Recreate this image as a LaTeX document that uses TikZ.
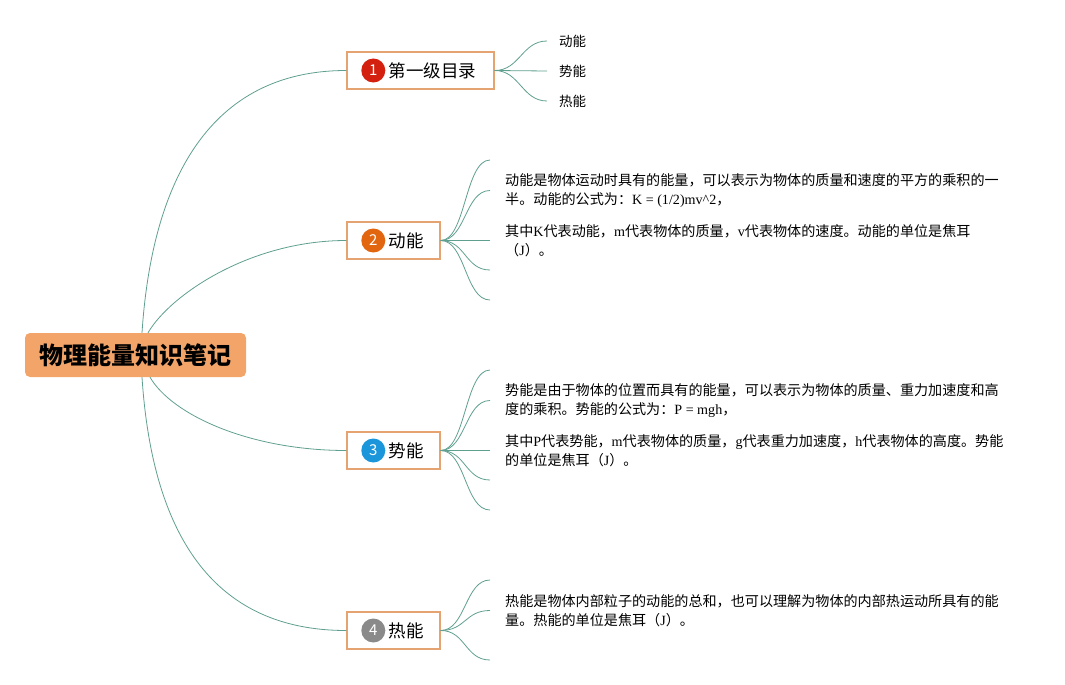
\documentclass[tikz,border=0pt]{standalone}
\usepackage{fontspec}
\setmainfont{Noto Sans CJK SC}
\newfontfamily\lat{Liberation Serif}
\usetikzlibrary{positioning}
\definecolor{rootfill}{HTML}{F3A469}
\definecolor{boxline}{HTML}{E6A372}
\definecolor{linkcol}{HTML}{5F9F8F}
\definecolor{numred}{HTML}{D3200F}
\definecolor{numorange}{HTML}{E2650F}
\definecolor{numblue}{HTML}{1C96DB}
\definecolor{numgray}{HTML}{8A8A8A}

\begin{document}
\begin{tikzpicture}[x=1pt,y=-1pt,
        link/.style={draw=linkcol,line width=0.8pt},
        root/.style={fill=rootfill,rounded corners=5pt,minimum width=221pt,minimum height=44pt,font=\fontsize{24}{27}\selectfont\bfseries},
        topic/.style={draw=boxline,line width=1.4pt,fill=white,minimum height=37pt},
        num/.style={circle,inner sep=0pt,minimum size=24pt,text=white,font=\fontsize{15}{15}\selectfont},
        toptext/.style={inner sep=1pt,font=\fontsize{17.5}{20}\selectfont},
        leaf/.style={anchor=west,inner xsep=12pt,font=\fontsize{13.5}{16}\selectfont},
        para/.style={anchor=west,inner xsep=15pt,align=left,font=\fontsize{14.1}{19.5}\selectfont}]
        \useasboundingbox (0,0) rectangle (1065,685);

        % root
        \node[root] (root) at (135.5,355) {物理能量知识笔记};

        % first level
        \node[topic,minimum width=147pt] (b1) at (420.5,70.5) {};
        \node[num,fill=numred] (n1) at ([xshift=27pt]b1.west) {1};
        \node[toptext,right=2pt of n1] (t1) {第一级目录};

        \node[topic,minimum width=93pt] (b2) at (393.5,240.5) {};
        \node[num,fill=numorange] (n2) at ([xshift=27pt]b2.west) {2};
        \node[toptext,right=2pt of n2] (t2) {动能};

        \node[topic,minimum width=93pt] (b3) at (393.5,450.5) {};
        \node[num,fill=numblue] (n3) at ([xshift=27pt]b3.west) {3};
        \node[toptext,right=2pt of n3] (t3) {势能};

        \node[topic,minimum width=93pt] (b4) at (393.5,630.5) {};
        \node[num,fill=numgray] (n4) at ([xshift=27pt]b4.west) {4};
        \node[toptext,right=2pt of n4] (t4) {热能};

        \draw[link] ([xshift=6.5pt]root.north) .. controls (152,180) and (210,70.5) .. (b1.west);
        \draw[link] ([xshift=12.5pt]root.north) .. controls (170,295) and (250,240.5) .. (b2.west);
        \draw[link] ([xshift=14.5pt]root.south) .. controls (172,415) and (250,450.5) .. (b3.west);
        \draw[link] ([xshift=6.5pt]root.south) .. controls (152,530) and (210,630.5) .. (b4.west);

        % leaves of 1
        \node[leaf] (l1) at (547,41) {动能};
        \node[leaf] (l2) at (547,71) {势能};
        \node[leaf] (l3) at (547,101) {热能};
        \draw[link] (b1.east) .. controls +(25,0) and +(-25,0) .. (l1.west);
        \draw[link] (b1.east) -- (l2.west);
        \draw[link] (b1.east) .. controls +(25,0) and +(-25,0) .. (l3.west);

        % details of 2
        \coordinate (e2a) at (490,160);
        \coordinate (e2b) at (490,270);
        \coordinate (e2c) at (490,300);
        \node[para] (p2a) at (490,190.5) {动能是物体运动时具有的能量，可以表示为物体的质量和速度的平方的乘积的一\\半。动能的公式为：{\lat K = (1/2)mv\textasciicircum 2}，};
        \node[para] (p2b) at (490,240.5) {其中{\lat K}代表动能，{\lat m}代表物体的质量，{\lat v}代表物体的速度。动能的单位是焦耳\\（{\lat J}）。};
        \draw[link] (b2.east) .. controls +(25,0) and +(-25,0) .. (e2a);
        \draw[link] (b2.east) .. controls +(25,0) and +(-25,0) .. (p2a.west);
        \draw[link] (b2.east) -- (p2b.west);
        \draw[link] (b2.east) .. controls +(25,0) and +(-25,0) .. (e2b);
        \draw[link] (b2.east) .. controls +(25,0) and +(-25,0) .. (e2c);

        % details of 3
        \coordinate (e3a) at (490,370);
        \coordinate (e3b) at (490,480);
        \coordinate (e3c) at (490,510);
        \node[para] (p3a) at (490,400.5) {势能是由于物体的位置而具有的能量，可以表示为物体的质量、重力加速度和高\\度的乘积。势能的公式为：{\lat P = mgh}，};
        \node[para] (p3b) at (490,450.5) {其中{\lat P}代表势能，{\lat m}代表物体的质量，{\lat g}代表重力加速度，{\lat h}代表物体的高度。势能\\的单位是焦耳（{\lat J}）。};
        \draw[link] (b3.east) .. controls +(25,0) and +(-25,0) .. (e3a);
        \draw[link] (b3.east) .. controls +(25,0) and +(-25,0) .. (p3a.west);
        \draw[link] (b3.east) -- (p3b.west);
        \draw[link] (b3.east) .. controls +(25,0) and +(-25,0) .. (e3b);
        \draw[link] (b3.east) .. controls +(25,0) and +(-25,0) .. (e3c);

        % details of 4
        \coordinate (e4a) at (490,580);
        \coordinate (e4b) at (490,660);
        \node[para] (p4a) at (490,610.5) {热能是物体内部粒子的动能的总和，也可以理解为物体的内部热运动所具有的能\\量。热能的单位是焦耳（{\lat J}）。};
        \draw[link] (b4.east) .. controls +(25,0) and +(-25,0) .. (e4a);
        \draw[link] (b4.east) .. controls +(25,0) and +(-25,0) .. (p4a.west);
        \draw[link] (b4.east) .. controls +(25,0) and +(-25,0) .. (e4b);
    \end{tikzpicture}
\end{document}
